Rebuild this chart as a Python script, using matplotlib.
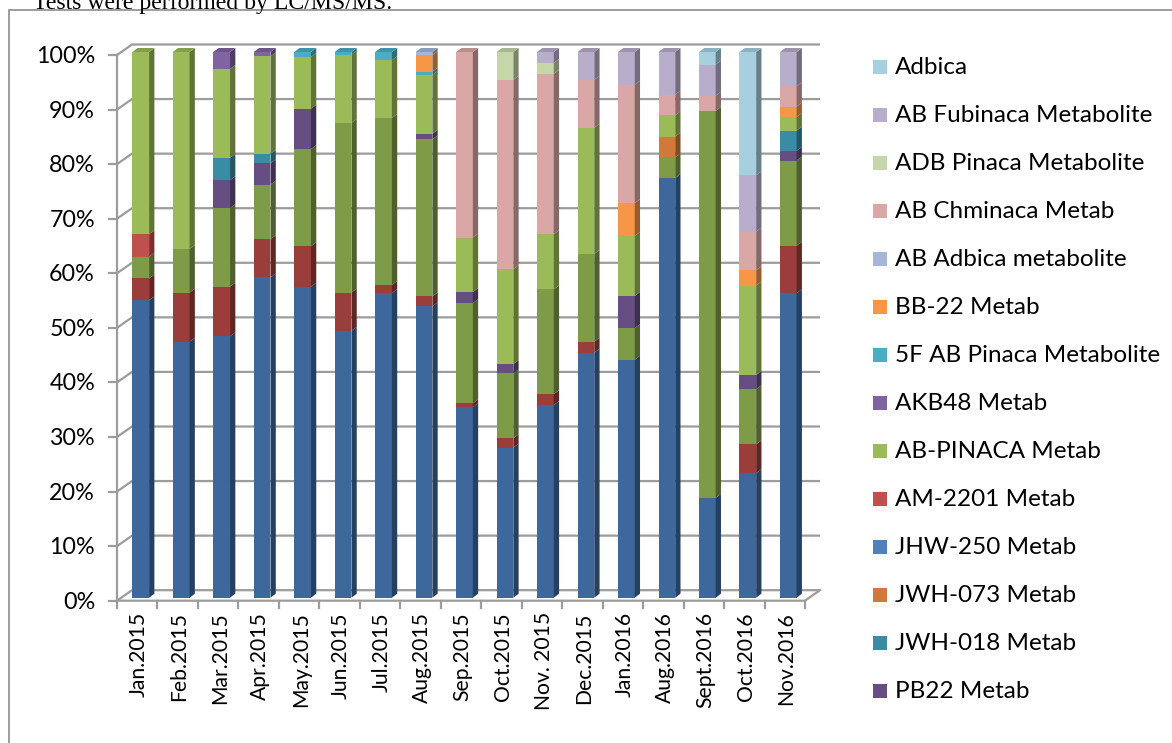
import numpy as np
import matplotlib
matplotlib.use("Agg")
import matplotlib.pyplot as plt
from matplotlib.patches import Polygon, Rectangle
from matplotlib.colors import to_rgb

# ---------------- data ----------------
categories = ["Jan.2015", "Feb.2015", "Mar.2015", "Apr.2015", "May.2015", "Jun.2015",
              "Jul.2015", "Aug.2015", "Sep.2015", "Oct.2015", "Nov. 2015", "Dec.2015",
              "Jan.2016", "Aug.2016", "Sept.2016", "Oct.2016", "Nov.2016"]

# stacking order, bottom to top (first three series: legend entries cut off in the source)
series_names = ["Series 1", "Series 2", "Series 3",
                "PB22 Metab", "JWH-018 Metab", "JWH-073 Metab", "JHW-250 Metab",
                "AM-2201 Metab", "AB-PINACA Metab", "AKB48 Metab",
                "5F AB Pinaca Metabolite", "BB-22 Metab", "AB Adbica metabolite",
                "AB Chminaca Metab", "ADB Pinaca Metabolite", "AB Fubinaca Metabolite",
                "Adbica"]
in_legend = [False, False, False] + [True] * 14

s1 = [54.5, 46.9, 47.9, 58.7, 57.0, 48.9, 55.8, 53.4, 34.9, 27.5, 35.3, 44.9, 43.6, 76.9, 18.3, 22.8, 55.8]
s2 = [4.0, 9.0, 9.1, 7.0, 7.4, 7.0, 1.5, 1.8, 0.7, 1.7, 2.0, 2.0, 0, 0, 0, 5.3, 8.7]
s3 = [4.0, 8.0, 14.4, 10.0, 17.8, 31.1, 30.6, 28.8, 18.4, 11.9, 19.2, 16.1, 5.8, 3.8, 70.9, 10.1, 15.6]
pb22 = [0, 0, 5.1, 3.9, 7.4, 0, 0, 1.0, 2.0, 1.7, 0, 0, 5.9, 0, 0, 2.6, 1.8]
jwh018 = [0, 0, 4.1, 1.7, 0, 0, 0, 0, 0, 0, 0, 0, 0, 0, 0, 0, 3.7]
jwh073 = [0, 0, 0, 0, 0, 0, 0, 0, 0, 0, 0, 0, 0, 3.8, 0, 0, 0]
jhw250 = [0] * 17
am2201 = [4.1, 0, 0, 0, 0, 0, 0, 0, 0, 0, 0, 0, 0, 0, 0, 0, 0]
ab_pinaca = [33.4, 36.1, 16.3, 17.9, 9.5, 12.5, 10.6, 10.8, 10.0, 17.4, 10.1, 23.1, 11.0, 3.9, 0, 16.4, 2.5]
akb48 = [0, 0, 3.1, 0.8, 0, 0, 0, 0, 0, 0, 0, 0, 0, 0, 0, 0, 0]
f5_ab_pinaca = [0, 0, 0, 0, 0.9, 0.5, 1.5, 0.6, 0, 0, 0, 0, 0, 0, 0, 0, 0]
bb22 = [0, 0, 0, 0, 0, 0, 0, 3.0, 0, 0, 0, 0, 6.0, 0, 0, 2.8, 1.9]
ab_adbica = [0, 0, 0, 0, 0, 0, 0, 0.6, 0, 0, 0, 0, 0, 0, 0, 0, 0]
ab_chminaca = [0, 0, 0, 0, 0, 0, 0, 0, 34.0, 34.7, 29.4, 8.8, 21.7, 3.8, 2.8, 7.1, 3.7]
adb_pinaca = [0, 0, 0, 0, 0, 0, 0, 0, 0, 5.1, 2.0, 0, 0, 0, 0, 0, 0]
ab_fubinaca = [0, 0, 0, 0, 0, 0, 0, 0, 0, 0, 2.0, 5.1, 6.0, 7.8, 5.7, 10.3, 6.3]
adbica = [0, 0, 0, 0, 0, 0, 0, 0, 0, 0, 0, 0, 0, 0, 2.3, 22.6, 0]

series_values = [s1, s2, s3, pb22, jwh018, jwh073, jhw250, am2201, ab_pinaca, akb48,
                 f5_ab_pinaca, bb22, ab_adbica, ab_chminaca, adb_pinaca, ab_fubinaca, adbica]

colors = ["#3E689C", "#9B3D3A", "#7E9B48", "#664D82", "#3A8CA4", "#CF7A39", "#4F81BD",
          "#C0504D", "#9BBB59", "#8064A2", "#4BACC6", "#F79646", "#A5B6D8",
          "#D8A7A6", "#C5D7A8", "#B8AECB", "#A6D0DF"]

yticks = [0, 10, 20, 30, 40, 50, 60, 70, 80, 90, 100]
title_text = "Tests were performed by LC/MS/MS."

# ---------------- figure ----------------
W, H = 1172, 743
fig = plt.figure(figsize=(W / 100, H / 100), dpi=100)
fig.patch.set_facecolor("white")

def fx(px):
    return px / W

def fy(py):
    return 1 - py / H

FONT = ["Lato", "DejaVu Sans"]

def fit_size(text, target_px, family):
    t = fig.text(0, 0, text, fontsize=20, family=family)
    r = fig.canvas.get_renderer()
    w = t.get_window_extent(r).width
    t.remove()
    return 20 * target_px / w

fs_leg = fit_size("AB Fubinaca Metabolite", 257, FONT)
fs_y = fit_size("100%", 59, FONT)
fs_x = fit_size("Sept.2016", 96, FONT)
fs_title = fit_size(title_text, 360, ["Liberation Serif", "DejaVu Serif"])

# chart area border (extends past figure on right/bottom)
fig.patches.append(Rectangle((fx(9), fy(760)), fx(1200 - 9), fy(10) - fy(760),
                             transform=fig.transFigure, fill=False,
                             edgecolor="#8C8C8C", lw=1.2, zorder=0))

# clipped document text at top
fig.text(fx(33), fy(9), title_text, fontsize=fs_title,
         family=["Liberation Serif", "DejaVu Serif"], va="baseline", ha="left")

# plot axes = front plane of the 3D box
x0p, x1p, y0p, y1p = 117, 805, 600.7, 55
ax = fig.add_axes([fx(x0p), fy(y0p), (x1p - x0p) / W, (y0p - y1p) / H])
n = len(categories)
ax.set_xlim(-0.5, n - 0.5)
ax.set_ylim(0, 100)
ax.axis("off")

pxc = (x1p - x0p) / n          # pixels per category
pxp = (y0p - y1p) / 100.0      # pixels per percent

def off(dxp, dyp):
    return dxp / pxc, dyp / pxp

wx, wy = off(15, 10.5)      # back wall offset
bx, by = off(3.5, 3.0)      # bar front plane offset
ddx, ddy = off(5.3, 4.0)    # bar depth
bw = 16.7 / pxc

grid_c = "#9C9C9C"
xl, xr = -0.5, n - 0.5

# back-wall gridlines with left-wall diagonals
for v in yticks:
    ax.plot([xl, xl + wx, xr + wx], [v, v + wy, v + wy], color=grid_c, lw=1.6,
            clip_on=False, zorder=1, solid_capstyle="butt")
# front left axis + ticks
ax.plot([xl, xl], [0, 100], color=grid_c, lw=1.6, clip_on=False, zorder=1)
tl, _ = off(8, 0)
for v in yticks:
    ax.plot([xl - tl, xl], [v, v], color=grid_c, lw=1.6, clip_on=False, zorder=1)
    ax.text(xl - 22 / pxc, v - 1.5 / pxp, f"{v}%", ha="right", va="center",
            fontsize=fs_y, family=FONT)
# floor front edge and right diagonal
ax.plot([xl, xr, xr + wx], [0, 0, wy], color=grid_c, lw=1.6, clip_on=False, zorder=1)
_, tk = off(0, 7)
for k in range(n + 1):
    ax.plot([xl + k, xl + k], [0, -tk], color=grid_c, lw=1.6, clip_on=False, zorder=1)

# category labels
for i, c in enumerate(categories):
    ax.text(i + 0.04, -11.5 / pxp, c, rotation=90, ha="center", va="top",
            fontsize=fs_x, family=FONT)

def shade(col, f):
    r, g, b = to_rgb(col)
    return (r * f, g * f, b * f)

# bars
xs = np.arange(n) + bx
bottom = np.zeros(n)
top_color = [None] * n
for si, (vals, col) in enumerate(zip(series_values, colors)):
    vals = np.asarray(vals, dtype=float)
    z = 3 + si * 0.01
    ax.bar(xs, vals, bw, bottom=bottom + by, color=col, linewidth=0, zorder=z,
           clip_on=False)
    side = shade(col, 0.62)
    for i in range(n):
        if vals[i] <= 0:
            continue
        y0 = bottom[i] + by
        y1 = y0 + vals[i]
        xrt = xs[i] + bw / 2
        ax.add_patch(Polygon([(xrt, y0), (xrt + ddx, y0 + ddy), (xrt + ddx, y1 + ddy),
                              (xrt, y1)], closed=True, facecolor=side, edgecolor="none",
                             zorder=z, clip_on=False))
        top_color[i] = col
    bottom = bottom + vals

for i in range(n):
    col = top_color[i]
    yt = bottom[i] + by
    xa, xb = xs[i] - bw / 2, xs[i] + bw / 2
    ax.add_patch(Polygon([(xa, yt), (xb, yt), (xb + ddx, yt + ddy), (xa + ddx, yt + ddy)],
                         closed=True, facecolor=shade(col, 0.85), edgecolor="none",
                         zorder=4, clip_on=False))

# legend (reverse of stacking order, as in the source)
leg_items = [(nm, c) for nm, c, show in zip(series_names, colors, in_legend) if show][::-1]
for k, (nm, c) in enumerate(leg_items):
    yc = 66.5 + k * 48.0
    fig.patches.append(Rectangle((fx(873), fy(yc + 7)), 14 / W, 14 / H,
                                 transform=fig.transFigure, facecolor=c,
                                 edgecolor="none"))
    fig.text(fx(895), fy(yc + 1), nm, ha="left", va="center", fontsize=fs_leg,
             family=FONT)

fig.savefig("out.png", dpi=100, facecolor="white")
